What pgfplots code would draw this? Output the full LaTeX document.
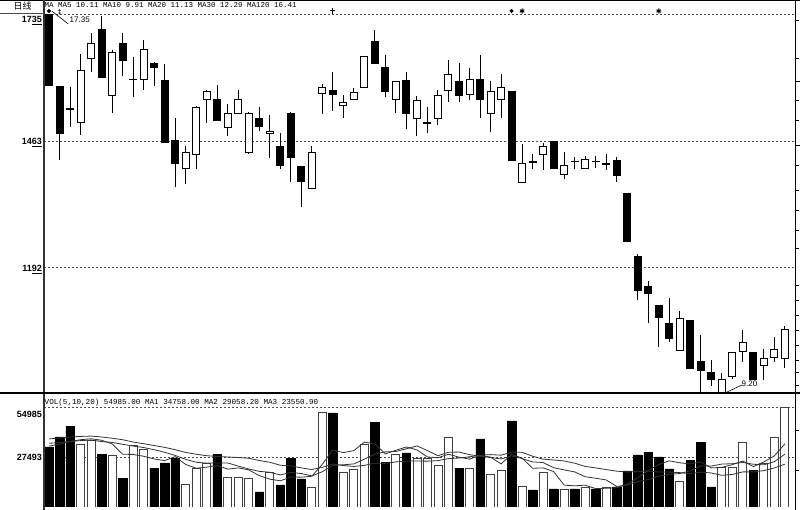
\documentclass[border=0pt]{standalone}
\usepackage{fontspec}
\usepackage{pgfplots}
\usepackage{pgfplotstable}
\pgfplotsset{compat=1.18}
\setmainfont{Liberation Sans}
\newfontfamily\cjk{Noto Sans CJK SC}
\newfontfamily\mono{Liberation Mono}

% daily candles: index, open, high, low, close
\pgfplotstableread{
i o h l c
1 17.35 17.35 15.83 15.83
2 15.81 15.81 14.22 14.80
3 15.32 15.79 14.93 15.32
4 15.02 16.50 14.76 16.15
5 16.39 16.95 16.11 16.73
6 17.03 17.31 16.00 16.00
7 15.60 16.58 15.23 16.52
8 16.73 16.95 16.03 16.35
9 15.96 16.43 15.57 15.96
10 15.94 16.80 15.72 16.60
11 16.30 16.33 15.81 16.20
12 15.92 16.28 14.59 14.59
13 14.63 15.12 13.64 14.14
14 14.05 14.52 13.71 14.39
15 14.33 15.38 14.03 15.34
16 15.51 15.72 15.02 15.70
17 15.51 15.83 15.08 15.08
18 14.91 15.42 14.74 15.21
19 15.23 15.72 15.23 15.51
20 14.39 15.25 14.35 15.21
21 15.12 15.36 14.84 14.95
22 14.80 15.19 14.27 14.84
23 14.52 14.80 14.03 14.11
24 15.21 15.25 13.75 14.27
25 14.09 14.09 13.21 13.77
26 13.62 14.52 13.62 14.39
27 15.64 15.85 15.21 15.77
28 15.72 16.11 15.27 15.62
29 15.40 15.62 15.12 15.45
30 15.51 15.77 15.51 15.66
31 15.77 16.45 15.77 16.45
32 16.76 17.01 16.30 16.30
33 16.20 16.48 15.57 15.70
34 15.53 15.90 15.23 15.90
35 15.92 16.11 14.89 15.21
36 15.12 15.60 14.74 15.49
37 15.02 15.36 14.80 15.02
38 15.12 15.72 14.97 15.60
39 15.72 16.37 15.47 16.05
40 15.90 16.30 15.47 15.60
41 15.62 16.20 15.51 15.94
42 15.94 16.48 15.12 15.51
43 15.21 15.92 14.82 15.70
44 15.53 16.07 15.12 15.77
45 15.70 15.70 14.22 14.22
46 13.73 14.57 13.73 14.14
47 14.18 14.35 14.03 14.18
48 14.33 14.59 14.01 14.52
49 14.61 14.61 14.03 14.03
50 13.90 14.39 13.81 14.11
51 14.20 14.29 14.03 14.20
52 14.03 14.31 14.03 14.24
53 14.20 14.31 14.05 14.20
54 14.14 14.35 14.01 14.14
55 14.22 14.29 13.75 13.88
56 13.51 13.51 12.48 12.48
57 12.16 12.20 11.22 11.43
58 11.50 11.63 10.72 11.35
59 11.09 11.09 10.21 10.85
60 10.72 11.26 10.31 10.40
61 10.14 10.98 10.14 10.81
62 10.77 10.77 9.75 9.75
63 9.89 10.47 9.22 9.71
64 9.67 9.93 9.37 9.50
65 9.20 9.65 9.20 9.52
66 9.58 10.08 9.52 10.08
67 10.12 10.57 9.89 10.31
68 10.08 10.08 9.52 9.52
69 9.82 10.16 9.50 9.97
70 9.99 10.42 9.89 10.16
71 9.97 10.66 9.75 10.59
}\candles

% volume: black bar, white bar, MA5, MA10, MA20
\pgfplotstableread{
i vb vw m5 m10 m20
1 33000 nan 33500 35000 37400
2 38500 nan 34500 35500 38000
3 44500 nan 36000 36000 38500
4 nan 34600 37000 36500 38800
5 nan 36800 37500 36800 39000
6 29100 nan 36700 36000 38500
7 nan 28600 34700 35500 37800
8 15900 nan 29000 34500 37000
9 nan 34100 28900 33500 35700
10 nan 31900 27900 32700 34800
11 21400 nan 26400 31500 33800
12 24200 nan 25500 30100 32800
13 26900 nan 27700 28350 31500
14 nan 12650 23400 26200 30000
15 nan 21400 21300 24600 29000
16 nan 24200 21900 24100 28200
17 29100 nan 22850 24200 27800
18 nan 16500 20800 24200 27500
19 nan 16500 21500 22500 27200
20 nan 15900 20400 20900 26800
21 8250 nan 17250 19600 25550
22 nan 19200 15300 19100 24600
23 12100 nan 14400 17600 22960
24 26900 nan 16500 19000 22600
25 15400 nan 16400 18400 21500
26 nan 11000 16900 17100 20600
27 nan 52200 23500 19400 21800
28 51700 nan 31400 22900 23600
29 nan 19200 29900 23200 22800
30 nan 20900 31000 23700 22300
31 nan 34600 35700 26300 22900
32 46700 nan 34600 29100 24100
33 24700 nan 29200 30300 23950
34 nan 29100 31200 30550 24800
35 29700 nan 33000 32000 25200
36 nan 26900 31400 33600 25300
37 nan 26900 27500 31000 25200
38 nan 23100 27100 28200 25500
39 nan 38500 29000 30100 26600
40 21400 nan 27400 30200 26900
41 nan 21400 26300 28800 27600
42 37400 nan 28400 27900 28500
43 nan 18100 27400 27250 28800
44 nan 20300 23700 26400 28500
45 47300 nan 28900 28100 30100
46 nan 11550 26900 26600 30100
47 9350 nan 21300 24800 27900
48 nan 19200 21500 24450 26300
49 9900 nan 19500 21600 25850
50 nan 9900 12000 20400 25300
51 9900 nan 11650 19300 24100
52 nan 11000 12000 16650 22300
53 9900 nan 10100 15800 21500
54 nan 11000 10300 14900 20600
55 11000 nan 10600 11300 19700
56 19800 nan 12500 12100 19300
57 28600 nan 16100 14000 19400
58 30200 nan 20100 15100 19800
59 27500 nan 23400 16900 19200
60 20900 nan 25400 18000 19200
61 nan 14300 24300 18400 18900
62 25800 nan 23700 19900 18300
63 35700 nan 24800 22500 19200
64 11000 nan 21500 22500 18700
65 nan 22000 21800 23600 17400
66 nan 22000 23300 23800 17900
67 nan 35700 25300 24500 19300
68 20300 nan 22200 23500 19300
69 nan 24200 24800 23200 20000
70 nan 38500 28100 24950 21500
71 nan 54985 34758 29058 23551
}\vol

\pgfplotsset{
  candle/.style 2 args={only marks, mark=*, mark options={opacity=0},
    error bars/y dir=both, error bars/y explicit, error bars/error mark=none,
    error bars/error bar style={line width=#1, draw=#2}},
}

\begin{document}
\begin{tikzpicture}[x=1pt,y=1pt]
\path[use as bounding box] (0,0) rectangle (800,510);

% price panel
\begin{axis}[at={(44pt,116.3pt)}, anchor=south west,
  width=751pt, height=393.7pt, scale only axis, axis lines=none,
  xmin=0.524, xmax=71.96, ymin=9.206, ymax=17.656, clip=false]
\draw[black!70, line width=0.8pt, dash pattern=on 2pt off 2pt] (axis cs:0.524,17.35) -- (axis cs:71.96,17.35);
\draw[black!70, line width=0.8pt, dash pattern=on 2pt off 2pt] (axis cs:0.524,14.63) -- (axis cs:71.96,14.63);
\draw[black!70, line width=0.8pt, dash pattern=on 2pt off 2pt] (axis cs:0.524,11.92) -- (axis cs:71.96,11.92);
% wicks
\addplot[candle={1pt}{black}]
  table[x=i, y expr={(\thisrow{h}+\thisrow{l})/2}, y error expr={(\thisrow{h}-\thisrow{l})/2}] {\candles};
% body outline
\addplot[candle={8pt}{black}]
  table[x=i, y expr={(\thisrow{o}+\thisrow{c})/2}, y error expr={abs(\thisrow{c}-\thisrow{o})/2+0.0107}] {\candles};
% hollow inside of rising candles
\addplot[candle={6pt}{white}]
  table[x=i, y expr={(\thisrow{o}+\thisrow{c})/2}, y error expr={(\thisrow{c}>\thisrow{o})*max(abs(\thisrow{c}-\thisrow{o})/2-0.0107,0)}] {\candles};
% signal marks on top row
\addplot[only marks, mark=*, mark size=1.8pt, black] coordinates {(1,17.42) (45,17.42)};
\addplot[only marks, mark=asterisk, mark size=2.6pt, black, line width=1pt] coordinates {(46,17.42) (59,17.42)};
\addplot[only marks, mark=+, mark size=2.6pt, black, line width=1pt] coordinates {(28,17.42)};
\addplot[only marks, mark=text, text mark={\bfseries\fontsize{7}{7}\selectfont\ddag}, black] coordinates {(2,17.40)};
\end{axis}

% volume panel
\begin{axis}[at={(44pt,3pt)}, anchor=south west,
  width=751pt, height=114pt, scale only axis, axis lines=none,
  xmin=0.524, xmax=71.96, ymin=0, ymax=62683]
\draw[black!70, line width=0.8pt, dash pattern=on 2pt off 2pt] (axis cs:0.524,54985) -- (axis cs:71.96,54985);
\draw[black!70, line width=0.8pt, dash pattern=on 2pt off 2pt] (axis cs:0.524,27493) -- (axis cs:71.96,27493);
\addplot[ybar, bar width=8.5pt, bar shift=0pt, fill=black, draw=black] table[x=i, y=vb] {\vol};
\addplot[ybar, bar width=8pt, bar shift=0pt, fill=white, draw=black!75, line width=0.9pt] table[x=i, y=vw] {\vol};
\addplot[black!80, line width=0.8pt] table[x=i, y=m5] {\vol};
\addplot[black!80, line width=0.8pt] table[x=i, y=m10] {\vol};
\addplot[black!80, line width=0.8pt] table[x=i, y=m20] {\vol};
\end{axis}

% frame
\draw[black, line width=1.2pt] (0,509.5) -- (800,509.5);
\draw[black!80, line width=1.6pt] (44,0) -- (44,510);
\draw[black!70, line width=1pt] (0,496.5) -- (44,496.5);
\draw[black, line width=1.5pt] (0,117) -- (800,117);
\draw[black, line width=1pt] (795,0) -- (795,510);
\foreach \t in {20,58,100,120,165,190,210,230,248,285,300,315,330,345,360,372,385,430,470}
  \draw[black, line width=0.8pt] (795,510-\t) -- (799,510-\t);
\draw[black, line width=1pt] (795,428) -- (800,428);
\draw[black, line width=1pt] (795,364) -- (800,364);

% headers
\node[anchor=center, inner sep=0] at (22.5,504) {\cjk\fontsize{9}{9}\selectfont 日线};
\node[anchor=base west, inner sep=0] at (44.5,502) {\mono\fontsize{7.5}{7.5}\selectfont MA MA5 10.11 MA10 9.91 MA20 11.13 MA30 12.29 MA120 16.41};
\node[anchor=base west, inner sep=0] at (44.5,105) {\mono\fontsize{7.6}{7.6}\selectfont VOL(5,10,20) 54985.00 MA1 34758.00 MA2 29058.20 MA3 23550.90};

% axis labels
\begin{scope}[every node/.style={anchor=base east, inner sep=0, font=\bfseries\fontsize{9}{9}\selectfont}]
\node at (42,487) {17\underline{35}};
\node at (42,365) {14\underline{63}};
\node at (42,238) {11\underline{92}};
\node at (42,92) {54985};
\node at (42,49.5) {27493};
\end{scope}

% extreme annotations
\draw[black, line width=0.6pt] (51.7,499) -- (68.3,486);
\node[anchor=base west, inner sep=0, font=\fontsize{8}{8}\selectfont] at (69.5,487) {17.35};
\draw[black, line width=0.6pt] (727,118) -- (742,125);
\node[anchor=base west, inner sep=0, font=\fontsize{8}{8}\selectfont] at (741.5,123) {9.20};
\end{tikzpicture}
\end{document}
